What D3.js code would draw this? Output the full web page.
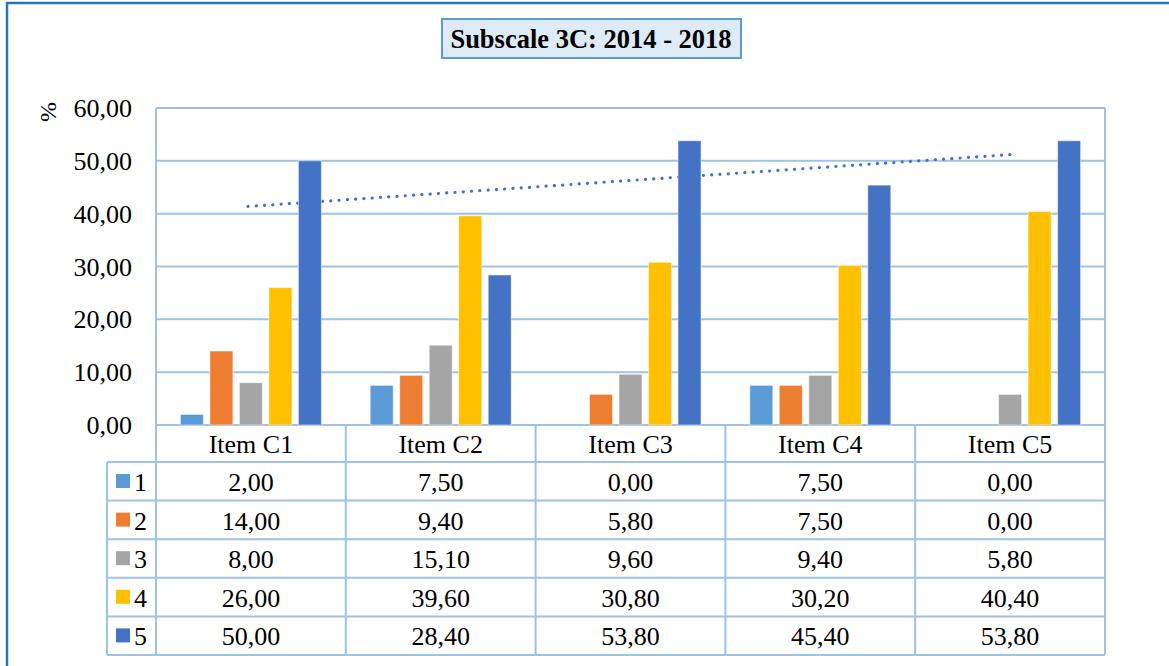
<!DOCTYPE html>
<html>
<head>
<meta charset="utf-8">
<script src="https://cdn.jsdelivr.net/npm/d3@7"></script>
<style>
  body { margin: 0; background: #fff; }
</style>
</head>
<body>
<svg id="chart" width="1169" height="666"></svg>
<script>
const categories = ['Item C1', 'Item C2', 'Item C3', 'Item C4', 'Item C5'];
const seriesNames = ['1', '2', '3', '4', '5'];
const seriesColors = ['#5b9bd5', '#ed7d31', '#a5a5a5', '#ffc000', '#4472c4'];
const values1 = [2.00, 7.50, 0.00, 7.50, 0.00];
const values2 = [14.00, 9.40, 5.80, 7.50, 0.00];
const values3 = [8.00, 15.10, 9.60, 9.40, 5.80];
const values4 = [26.00, 39.60, 30.80, 30.20, 40.40];
const values5 = [50.00, 28.40, 53.80, 45.40, 53.80];
const yTicks = [0, 10, 20, 30, 40, 50, 60];
const titleText = 'Subscale 3C: 2014 - 2018';

const allValues = [values1, values2, values3, values4, values5];
const fmt = v => v.toFixed(2).replace('.', ',');
const gridColor = '#9dc3e6';
const serif = 'Liberation Serif';

const svg = d3.select('#chart')
  .attr('font-family', serif)
  .style('display', 'block');

// outer frame (cut off at right and bottom)
svg.append('rect')
  .attr('x', 7).attr('y', 3)
  .attr('width', 1200).attr('height', 700)
  .attr('fill', 'none')
  .attr('stroke', '#2e75b6')
  .attr('stroke-width', 2.5);

// title box
svg.append('rect')
  .attr('x', 442).attr('y', 19)
  .attr('width', 299).attr('height', 39)
  .attr('fill', '#deebf7')
  .attr('stroke', '#5b9bd5')
  .attr('stroke-width', 2);
svg.append('text')
  .attr('x', 591).attr('y', 48)
  .attr('text-anchor', 'middle')
  .attr('font-weight', 'bold')
  .attr('font-size', 26.5)
  .attr('fill', '#000')
  .text(titleText);

const plotLeft = 156, plotRight = 1105, plotTop = 108, plotBottom = 425;

const x = d3.scaleBand().domain(categories).range([plotLeft, plotRight]);
const xs = d3.scaleBand().domain(seriesNames).range([-70.5, 70.5]).paddingInner(0.22);
const y = d3.scaleLinear().domain([0, 60]).range([plotBottom, plotTop]);

// gridlines
svg.append('g').selectAll('line')
  .data(yTicks)
  .enter().append('line')
  .attr('x1', plotLeft).attr('x2', plotRight)
  .attr('y1', d => y(d)).attr('y2', d => y(d))
  .attr('stroke', gridColor)
  .attr('stroke-width', 2);

// plot frame sides
svg.append('line').attr('x1', plotLeft).attr('x2', plotLeft).attr('y1', plotTop).attr('y2', plotBottom)
  .attr('stroke', gridColor).attr('stroke-width', 2);
svg.append('line').attr('x1', plotRight).attr('x2', plotRight).attr('y1', plotTop).attr('y2', plotBottom)
  .attr('stroke', gridColor).attr('stroke-width', 2);

// y tick labels
svg.append('g').selectAll('text')
  .data(yTicks)
  .enter().append('text')
  .attr('x', 132)
  .attr('y', d => y(d) + 9)
  .attr('text-anchor', 'end')
  .attr('font-size', 26)
  .text(d => fmt(d));

svg.append('text')
  .attr('transform', 'translate(56,112) rotate(-90)')
  .attr('text-anchor', 'middle')
  .attr('font-size', 24)
  .text('%');

// linear trendline for series 5 (drawn behind bars)
const n = values5.length;
const xm = d3.mean(d3.range(1, n + 1));
const ym = d3.mean(values5);
const slope = d3.sum(values5, (v, i) => (i + 1 - xm) * (v - ym)) / d3.sum(d3.range(1, n + 1), k => (k - xm) * (k - xm));
const icpt = ym - slope * xm;
const center = c => x(c) + x.bandwidth() / 2;
svg.append('line')
  .attr('x1', center(categories[0]) - 3)
  .attr('y1', y(icpt + slope * 1))
  .attr('x2', center(categories[n - 1]) + 2)
  .attr('y2', y(icpt + slope * n))
  .attr('stroke', '#4472c4')
  .attr('stroke-width', 3.2)
  .attr('stroke-linecap', 'round')
  .attr('stroke-dasharray', '0.1,8.2');

// bars
seriesNames.forEach((s, si) => {
  svg.append('g').selectAll('rect')
    .data(categories)
    .enter().append('rect')
    .attr('x', (c, ci) => center(c) + xs(s))
    .attr('y', (c, ci) => y(allValues[si][ci]))
    .attr('width', xs.bandwidth())
    .attr('height', (c, ci) => y(0) - y(allValues[si][ci]))
    .attr('fill', seriesColors[si])
    .attr('stroke', '#fff')
    .attr('stroke-opacity', 0.5)
    .attr('stroke-width', 1);
});

// data table
const headerBottom = 462;
const rowH = 38.6;
const legendLeft = 107;
const tableBottom = headerBottom + rowH * seriesNames.length;
const tbl = svg.append('g').attr('font-size', 26);

tbl.append('line').attr('x1', plotLeft).attr('x2', plotRight).attr('y1', headerBottom).attr('y2', headerBottom)
  .attr('stroke', gridColor).attr('stroke-width', 2);
tbl.selectAll('.rowline')
  .data(d3.range(1, seriesNames.length + 1))
  .enter().append('line')
  .attr('x1', legendLeft).attr('x2', plotRight)
  .attr('y1', i => headerBottom + rowH * i).attr('y2', i => headerBottom + rowH * i)
  .attr('stroke', gridColor).attr('stroke-width', 2);
tbl.append('line').attr('x1', legendLeft).attr('x2', plotLeft).attr('y1', headerBottom).attr('y2', headerBottom)
  .attr('stroke', gridColor).attr('stroke-width', 2);
const vx = categories.map(c => x(c)).concat([plotRight]);
tbl.selectAll('.colline')
  .data(vx)
  .enter().append('line')
  .attr('x1', d => d).attr('x2', d => d)
  .attr('y1', plotBottom).attr('y2', tableBottom)
  .attr('stroke', gridColor).attr('stroke-width', 2);
tbl.append('line').attr('x1', legendLeft).attr('x2', legendLeft).attr('y1', headerBottom).attr('y2', tableBottom)
  .attr('stroke', gridColor).attr('stroke-width', 2);

// header text
tbl.selectAll('.hdr')
  .data(categories)
  .enter().append('text')
  .attr('x', c => center(c))
  .attr('y', plotBottom + 28)
  .attr('text-anchor', 'middle')
  .text(c => c);

// legend keys and cell values
seriesNames.forEach((s, si) => {
  const ry = headerBottom + rowH * si;
  tbl.append('rect')
    .attr('x', 116).attr('y', ry + 12)
    .attr('width', 14).attr('height', 14)
    .attr('fill', seriesColors[si]);
  tbl.append('text')
    .attr('x', 134).attr('y', ry + 29)
    .text(s);
  tbl.selectAll('.v' + si)
    .data(categories)
    .enter().append('text')
    .attr('x', c => center(c))
    .attr('y', ry + 29)
    .attr('text-anchor', 'middle')
    .text((c, ci) => fmt(allValues[si][ci]));
});
</script>
</body>
</html>
